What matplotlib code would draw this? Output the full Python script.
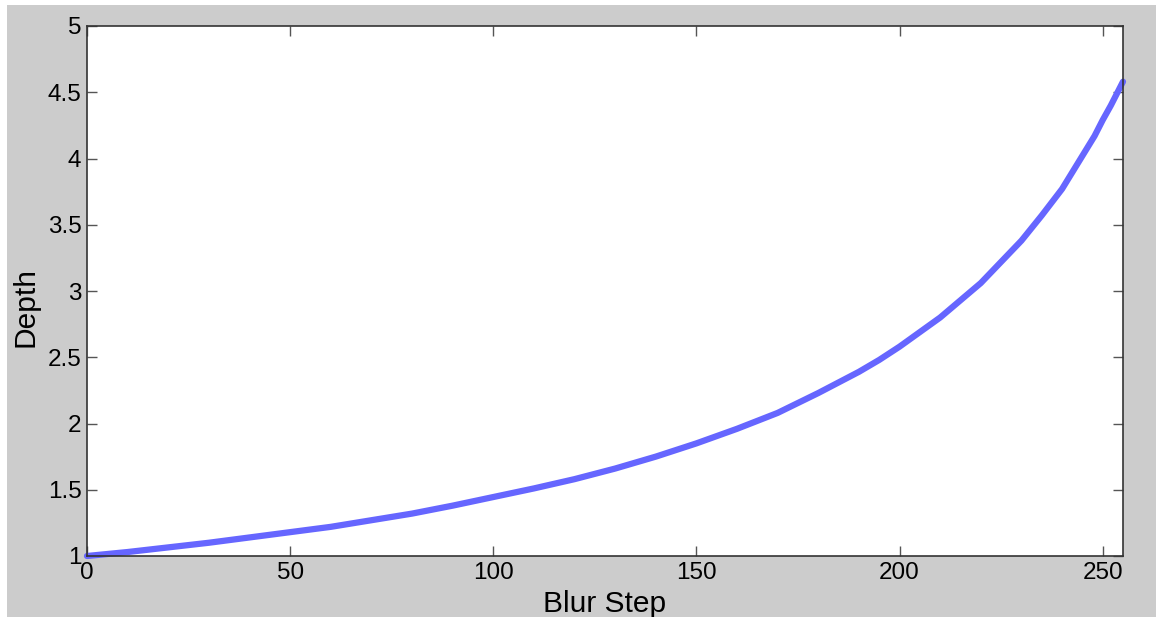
import matplotlib
matplotlib.use("Agg")
import matplotlib.pyplot as plt
from matplotlib.patches import Rectangle

blur_step = [0, 10, 20, 30, 40, 50, 60, 70, 80, 90, 100, 110, 120, 130, 140,
             150, 160, 170, 180, 185, 190, 195, 200, 205, 210, 215, 220, 225,
             230, 235, 240, 242, 245, 248, 250, 252, 255]
depth = [1.00, 1.03, 1.065, 1.10, 1.14, 1.18, 1.22, 1.27, 1.32, 1.38, 1.445,
         1.51, 1.58, 1.66, 1.75, 1.85, 1.96, 2.08, 2.23, 2.31, 2.39, 2.48,
         2.58, 2.69, 2.80, 2.93, 3.06, 3.22, 3.38, 3.57, 3.77, 3.87, 4.02,
         4.17, 4.29, 4.40, 4.58]
xticks = [0, 50, 100, 150, 200, 250]
yticks = [1, 1.5, 2, 2.5, 3, 3.5, 4, 4.5, 5]
ytick_labels = ["1", "1.5", "2", "2.5", "3", "3.5", "4", "4.5", "5"]

plt.rcParams['font.family'] = ['Liberation Sans', 'DejaVu Sans']

W, H = 1156, 617
fig = plt.figure(figsize=(W / 100, H / 100), dpi=100)
fig.patch.set_facecolor('white')
fig.patches.append(Rectangle((7 / W, 0), 1 - 7 / W, 1 - 5 / H,
                             transform=fig.transFigure, facecolor='#cccccc',
                             edgecolor='none', zorder=-10))

ax = fig.add_axes([87 / W, 1 - 556 / H, (1123 - 87) / W, (556 - 26) / H])
ax.set_facecolor('white')
ax.plot(blur_step, depth, color='#6666ff', linewidth=4.5, solid_capstyle='round',
        solid_joinstyle='round', clip_on=False)

ax.set_xlim(0, 255)
ax.set_ylim(1, 5)
ax.set_xticks(xticks)
ax.set_xticklabels([str(t) for t in xticks])
ax.set_yticks(yticks)
ax.set_yticklabels(ytick_labels)

ax.tick_params(direction='in', length=7.5, width=1, color='#555555',
               top=True, right=True, labelsize=17.5, labelcolor='black', pad=4)
for s in ax.spines.values():
    s.set_color('#333333')
    s.set_linewidth(1.2)

ax.set_xlabel('Blur Step', fontsize=21.5)
ax.set_ylabel('Depth', fontsize=21.5)
ax.xaxis.set_label_coords(0.5, -0.065)
ax.yaxis.set_label_coords(-0.046, 0.47)

fig.savefig('out.png', dpi=100, facecolor=fig.get_facecolor())
